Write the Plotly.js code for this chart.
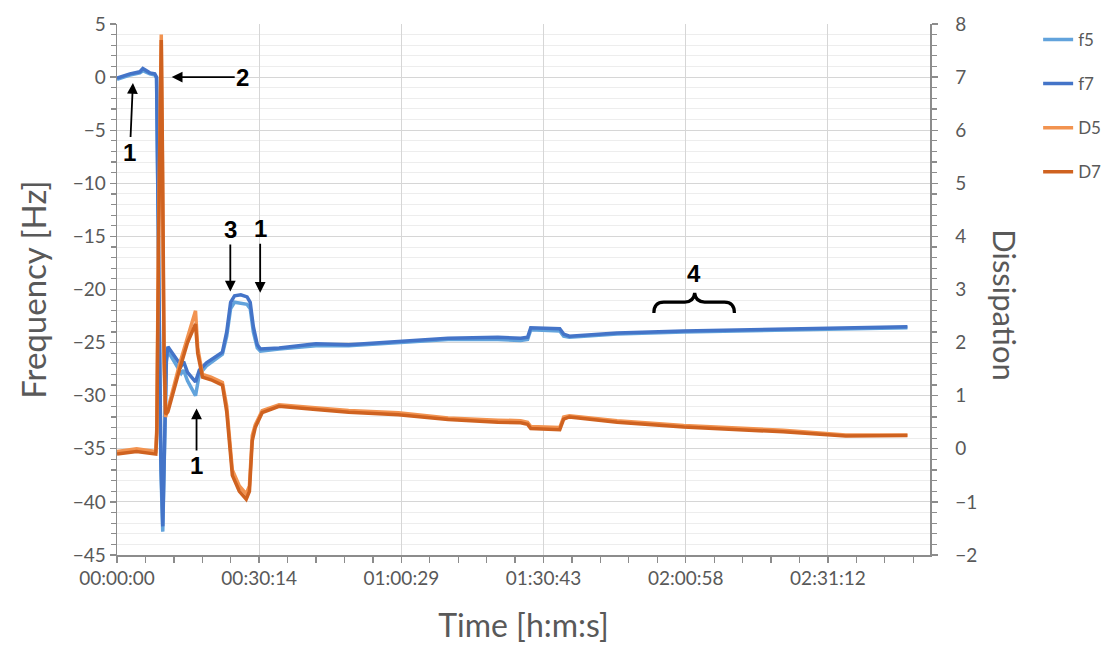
<!DOCTYPE html>
<html>
<head>
<meta charset="utf-8">
<script src="https://cdn.plot.ly/plotly-3.0.1.min.js"></script>
<style>
html,body{margin:0;padding:0;background:#ffffff;}
#chart{width:1118px;height:646px;}
</style>
</head>
<body>
<div id="chart"></div>
<script>
// ---------- data ----------
const SERIES_NAMES = ['f5', 'f7', 'D5', 'D7'];
const TICK_LABELS = ['00:00:00', '00:30:14', '01:00:29', '01:30:43', '02:00:58', '02:31:12'];

// frequency shifts [Hz], time in seconds
const TIME_F = [0, 165, 292, 330, 419, 482, 505, 530, 560, 584,
  605, 630, 650, 760, 820, 850, 900, 1002, 1050, 1142,
  1250, 1345, 1400, 1450, 1500, 1580, 1660, 1700, 1740, 1790,
  1830, 2068, 2538, 2956, 3591, 4225, 4860, 5151, 5240, 5280,
  5650, 5700, 5773, 6382, 7232, 8501, 10087];
const F5 = [-0.2, 0.2, 0.4, 0.6, 0.3, 0.2, -0.1, -16, -37, -42.8,
  -34, -26.8, -25.8, -27.2, -27.9, -27.6, -28.6, -30.0, -28.0, -27.2,
  -26.6, -26.1, -24.4, -21.8, -21.2, -21.3, -21.4, -21.8, -24.0, -25.5,
  -25.8, -25.6, -25.3, -25.3, -25.0, -24.7, -24.7, -24.8, -24.7, -23.8,
  -23.9, -24.4, -24.5, -24.2, -24.0, -23.8, -23.6];
const F7 = [-0.1, 0.3, 0.5, 0.8, 0.4, 0.3, 0.0, -15, -36, -42.3,
  -33, -26.5, -25.4, -26.6, -27.2, -26.8, -27.8, -28.7, -27.6, -26.9,
  -26.4, -25.9, -24.0, -21.2, -20.6, -20.5, -20.7, -21.2, -23.5, -25.2,
  -25.6, -25.5, -25.1, -25.2, -24.9, -24.6, -24.5, -24.6, -24.5, -23.6,
  -23.7, -24.2, -24.4, -24.1, -23.9, -23.7, -23.5];

// dissipation, time in seconds
const TIME_D = [0, 250, 495, 508, 530, 555, 565, 580, 600, 620,
  650, 800, 900, 1002, 1030, 1091, 1200, 1345, 1400, 1472,
  1561, 1649, 1690, 1726, 1764, 1852, 2068, 2538, 2956, 3591,
  4225, 4860, 5151, 5240, 5280, 5650, 5700, 5773, 6382, 7232,
  8501, 9300, 10087];
const D5 = [-0.05, 0.0, -0.05, 0.4, 4.2, 7.4, 7.8, 5.2, 1.6, 0.6,
  0.75, 1.6, 2.1, 2.6, 1.9, 1.4, 1.35, 1.25, 0.8, -0.4,
  -0.7, -0.85, -0.7, 0.25, 0.45, 0.72, 0.83, 0.77, 0.72, 0.68,
  0.58, 0.54, 0.53, 0.5, 0.42, 0.4, 0.6, 0.62, 0.53, 0.44,
  0.35, 0.26, 0.26];
const D7 = [-0.1, -0.05, -0.1, 0.3, 3.8, 7.2, 7.7, 5.6, 1.9, 0.65,
  0.7, 1.5, 2.0, 2.35, 1.8, 1.35, 1.3, 1.2, 0.7, -0.5,
  -0.8, -0.95, -0.8, 0.15, 0.4, 0.68, 0.8, 0.74, 0.69, 0.64,
  0.55, 0.5, 0.49, 0.46, 0.38, 0.36, 0.56, 0.6, 0.5, 0.41,
  0.32, 0.24, 0.25];

// ---------- chart ----------
function hmsToSeconds(s) {
  const p = s.split(':').map(Number);
  return p[0] * 3600 + p[1] * 60 + p[2];
}
const tickVals = TICK_LABELS.map(hmsToSeconds);

const FONT = 'Lato, "Open Sans", sans-serif';
const TXT = '#595959';
const AXIS = '#8c8c8c';
const COLORS = {f5: '#62A3DC', f7: '#4474C8', D5: '#F29350', D7: '#CF6220'};

const seriesX = {f5: TIME_F, f7: TIME_F, D5: TIME_D, D7: TIME_D};
const seriesY = {f5: F5, f7: F7, D5: D5, D7: D7};
const seriesAxis = {f5: 'y', f7: 'y', D5: 'y2', D7: 'y2'};

const traces = SERIES_NAMES.map(n => ({
  type: 'scatter',
  mode: 'lines',
  name: n,
  legendgroup: n,
  x: seriesX[n],
  y: seriesY[n],
  yaxis: seriesAxis[n],
  line: {color: COLORS[n], width: 3.5}
}));

function arrowNote(text, x, y, ax, ay) {
  return {
    xref: 'x', yref: 'y', x: x, y: y, ax: ax, ay: ay,
    text: '<b>' + text + '</b>',
    showarrow: true, arrowhead: 2, arrowsize: 1.2, arrowwidth: 1.8,
    arrowcolor: '#000', standoff: 0,
    font: {family: 'Liberation Sans, Arial, sans-serif', size: 24, color: '#000'}
  };
}

const layout = {
  width: 1118, height: 646,
  margin: {l: 117, r: 183, t: 24, b: 91, pad: 0},
  paper_bgcolor: '#ffffff', plot_bgcolor: '#ffffff',
  font: {family: FONT, color: TXT},
  showlegend: true,
  legend: {
    x: 1.133, y: 1.004, xanchor: 'left', yanchor: 'top',
    font: {family: FONT, size: 17, color: TXT},
    traceorder: 'grouped', tracegroupgap: 19,
    bgcolor: 'rgba(0,0,0,0)', borderwidth: 0
  },
  xaxis: {
    range: [0, 10375],
    tickmode: 'array', tickvals: tickVals, ticktext: TICK_LABELS,
    ticks: 'outside', ticklen: 6, tickwidth: 1.3, tickcolor: AXIS,
    tickfont: {family: FONT, size: 19, color: TXT},
    showline: true, linecolor: AXIS, linewidth: 1.5,
    showgrid: true, gridcolor: '#d6d6d6', gridwidth: 1,
    zeroline: false,
    minor: {tick0: 0, dtick: 362.88, ticks: 'outside', ticklen: 6, tickwidth: 1.3, tickcolor: AXIS, showgrid: false},
    title: {text: 'Time [h:m:s]', font: {family: FONT, size: 32, color: TXT}, standoff: 26},
    automargin: false
  },
  yaxis: {
    range: [-45, 5], tick0: 0, dtick: 5,
    ticks: 'outside', ticklen: 6, tickwidth: 1.3, tickcolor: AXIS,
    tickfont: {family: FONT, size: 19, color: TXT},
    showline: true, linecolor: AXIS, linewidth: 1.5,
    showgrid: true, gridcolor: '#d6d6d6', gridwidth: 1,
    zeroline: false,
    minor: {dtick: 1, ticks: 'outside', ticklen: 5, tickwidth: 1.2, tickcolor: AXIS, showgrid: true, gridcolor: '#ededed', gridwidth: 1},
    title: {text: 'Frequency [Hz]', font: {family: FONT, size: 33, color: TXT}, standoff: 16},
    automargin: false
  },
  yaxis2: {
    overlaying: 'y', side: 'right',
    range: [-2, 8], tick0: 0, dtick: 1,
    ticks: 'outside', ticklen: 6, tickwidth: 1.3, tickcolor: AXIS,
    tickfont: {family: FONT, size: 19, color: TXT},
    ticklabelstandoff: 14,
    showline: true, linecolor: AXIS, linewidth: 1.5,
    showgrid: false, zeroline: false,
    minor: {dtick: 0.2, ticks: 'outside', ticklen: 5, tickwidth: 1.2, tickcolor: AXIS, showgrid: false},
    automargin: false
  },
  annotations: [
    arrowNote('1', 203, -0.56, -3, 69),
    arrowNote('2', 698, 0, 71, 0),
    arrowNote('3', 1446, -20.2, 0, -62),
    arrowNote('1', 1827, -20.3, 0, -64),
    arrowNote('1', 1015, -31.2, 0, 57),
    {xref: 'x', yref: 'y', x: 7359, y: -18.45, text: '<b>4</b>', showarrow: false,
     font: {family: 'Liberation Sans, Arial, sans-serif', size: 24, color: '#000'}},
    {xref: 'paper', yref: 'paper', x: 1.092, y: 0.4708, xanchor: 'center', yanchor: 'middle',
     text: 'Dissipation', textangle: 90,
     showarrow: false, font: {family: FONT, size: 31, color: TXT}}
  ],
  shapes: [
    {type: 'path', xref: 'x', yref: 'y', layer: 'above',
     path: 'M6851,-22.21 Q6851,-21.18 6978,-21.18 L7245,-21.18 Q7359,-21.18 7372,-20.33 ' +
           'Q7384,-21.18 7499,-21.18 L7752,-21.18 Q7879,-21.18 7879,-22.21',
     line: {color: '#000', width: 3.2}}
  ]
};

Plotly.newPlot('chart', traces, layout, {displayModeBar: false, staticPlot: true});
</script>
</body>
</html>
